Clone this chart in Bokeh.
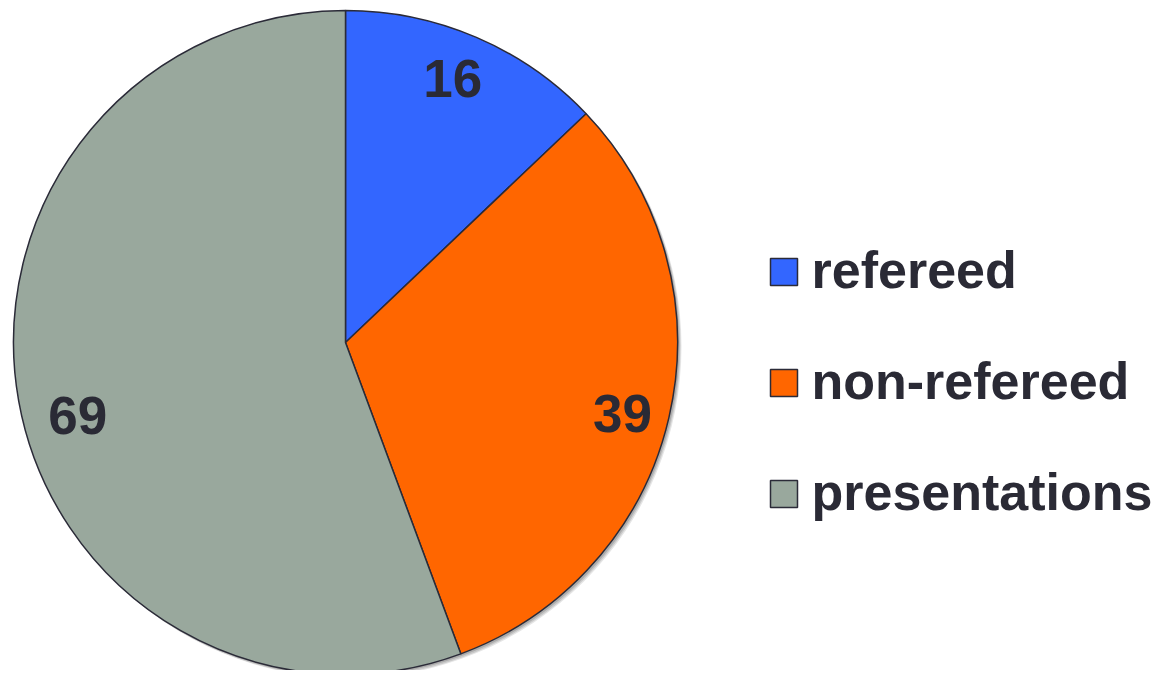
import math
from bokeh.plotting import figure
from bokeh.models import Range1d, ColumnDataSource
from bokeh.core.properties import value
from bokeh.embed import file_html
from bokeh.resources import INLINE

# ---- data ----
categories = ["refereed", "non-refereed", "presentations"]
counts = [16, 39, 69]
colors = ["#3366FF", "#FF6600", "#99A89D"]

# ---- layout / style ----
W, H = 1155, 670
TEXT_COLOR = "#2a2a35"
EDGE_COLOR = "#2b2b38"
FONT = "Liberation Sans"
cx, cy_screen = 345, 342
R = 332
label_frac = 0.85
label_nudge = [(-4, -5), (2, 7), (10, 23)]   # screen px nudges (x right, y down)
legend_x = 770
legend_sq = 27
legend_base = 285
legend_step = 111
legend_text_x = 811
legend_text_lift = 16
legend_font_size = "52px"


def sy(screen_y):
    return H - screen_y


p = figure(width=W, height=H, x_range=Range1d(0, W), y_range=Range1d(0, H),
           output_backend="svg", toolbar_location=None, min_border=0)
p.axis.visible = False
p.grid.visible = False
p.outline_line_color = None
p.background_fill_color = "white"

total = sum(counts)
starts, ends, mids = [], [], []
cum = 0
for c in counts:
    a0 = math.pi / 2 - 2 * math.pi * cum / total
    a1 = math.pi / 2 - 2 * math.pi * (cum + c) / total
    starts.append(a0)
    ends.append(a1)
    mids.append((a0 + a1) / 2)
    cum += c

cy = sy(cy_screen)

# soft shadow
for off, alpha in [(4, 0.10), (3, 0.12), (2, 0.15)]:
    p.circle(x=[cx + off], y=[cy - off], radius=R, fill_color="black", fill_alpha=alpha,
             line_color=None)

src = ColumnDataSource(dict(start=starts, end=ends, color=colors, cat=categories))
p.wedge(x=cx, y=cy, radius=R, start_angle="start", end_angle="end", direction="clock",
        fill_color="color", line_color=EDGE_COLOR, line_width=1.5, source=src)

# value labels
lx, ly, lt = [], [], []
for m, c, (nx, ny) in zip(mids, counts, label_nudge):
    lx.append(cx + label_frac * R * math.cos(m) + nx)
    ly.append(cy + label_frac * R * math.sin(m) - ny)
    lt.append(str(c))
p.text(x=lx, y=ly, text=lt, text_font=value(FONT), text_font_size=value("53px"),
       text_font_style="bold", text_color=TEXT_COLOR, text_align="center",
       text_baseline="middle")

# legend
n = len(categories)
base_y = [sy(legend_base + legend_step * i) for i in range(n)]
p.rect(x=[legend_x + legend_sq / 2] * n, y=[b + legend_sq / 2 for b in base_y],
       width=legend_sq, height=legend_sq, fill_color=colors, line_color=EDGE_COLOR,
       line_width=1.5)
p.text(x=[legend_text_x] * n, y=[b + legend_text_lift for b in base_y], text=categories,
       text_font=value(FONT), text_font_size=value(legend_font_size), text_font_style="bold",
       text_color=TEXT_COLOR, text_align="left", text_baseline="alphabetic")

open("out.html", "w").write(file_html(p, INLINE))
